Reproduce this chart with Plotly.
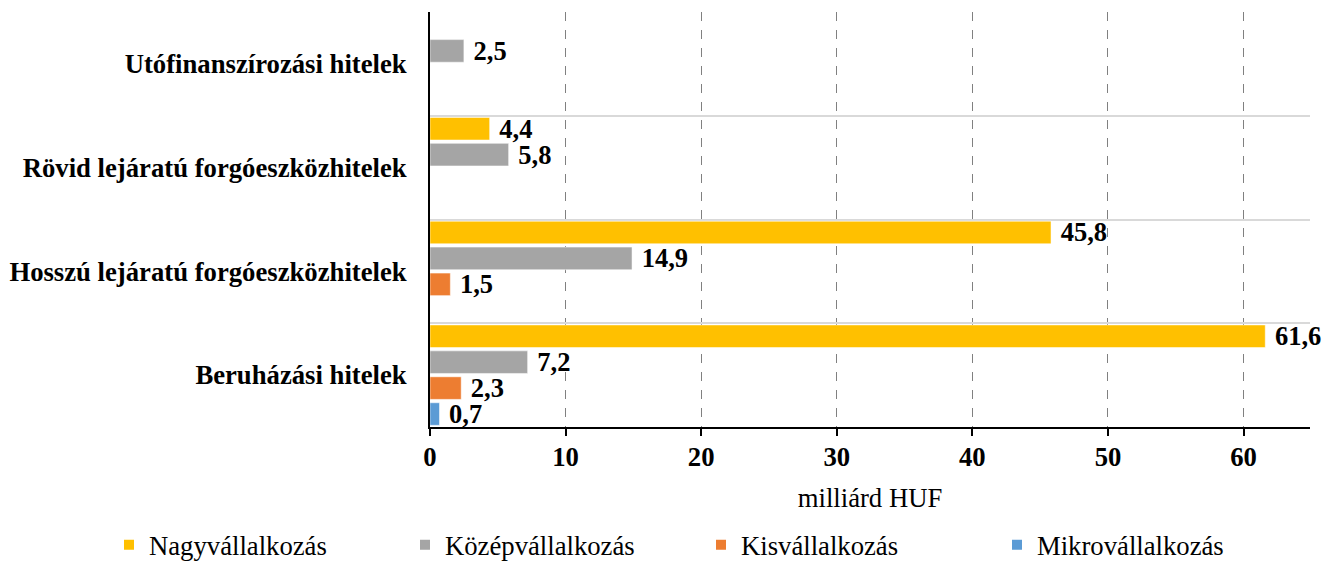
import plotly.graph_objects as go

categories = ["Beruházási hitelek", "Hosszú lejáratú forgóeszközhitelek",
              "Rövid lejáratú forgóeszközhitelek", "Utófinanszírozási hitelek"]
series_names = ["Nagyvállalkozás", "Középvállalkozás", "Kisvállalkozás", "Mikrovállalkozás"]
nagy = [61.6, 45.8, 4.4, None]
kozep = [7.2, 14.9, 5.8, 2.5]
kis = [2.3, 1.5, None, None]
mikro = [0.7, None, None, None]
colors = ["#FFC000", "#A5A5A5", "#ED7D31", "#5B9BD5"]
x_ticks = [0, 10, 20, 30, 40, 50, 60]

font_family = "Liberation Serif"
FS = 26.7

fig = go.Figure()
data = [nagy, kozep, kis, mikro]
# add in reverse so that Nagyvállalkozás is drawn at the top of each group
for name, vals, col in reversed(list(zip(series_names, data, colors))):
    fig.add_trace(go.Bar(
        y=categories, x=vals, name=name, orientation="h",
        marker=dict(color=col, line=dict(color="white", width=0.5)),
        texttemplate=" %{x:.1f}",
        textposition="outside",
        constraintext="none",
        textfont=dict(family=font_family, size=26.5, color="black", weight="bold"),
        cliponaxis=False,
        hoverinfo="skip",
    ))

# page body has an 8px default margin, so the figure is sized to fit the window
W, H = 1322, 553
fig.update_layout(
    width=W, height=H,
    barmode="group", bargap=0.0, bargroupgap=0.13,
    separators=", ",
    plot_bgcolor="white", paper_bgcolor="white",
    margin=dict(l=422, r=20, t=4, b=134, autoexpand=False),
    font=dict(family=font_family, size=FS, color="black"),
    showlegend=True,
    legend=dict(orientation="h", x=-0.3648, xref="paper", y=-0.284, yref="paper",
                yanchor="middle", xanchor="left",
                traceorder="reversed", entrywidth=251, entrywidthmode="pixels",
                font=dict(family=font_family, size=FS, color="black"),
                itemsizing="constant"),
)

fig.update_xaxes(
    range=[0, 64.9], tickvals=x_ticks, ticktext=[str(t) for t in x_ticks],
    showgrid=True, gridcolor="#808080", griddash="dash", gridwidth=1.3,
    showline=True, linecolor="black", linewidth=2,
    ticks="outside", ticklen=7, tickcolor="black", tickwidth=1.5,
    ticklabelstandoff=-2,
    tickfont=dict(family=font_family, size=FS, color="black", weight="bold"),
    title=dict(text="milliárd HUF", font=dict(family=font_family, size=FS, color="black"), standoff=17),
    zeroline=False, automargin=False,
)
fig.update_yaxes(
    categoryorder="array", categoryarray=categories,
    showgrid=True, tickson="boundaries", gridcolor="#D9D9D9", gridwidth=1.5,
    showline=True, linecolor="black", linewidth=2,
    ticks="", ticklabelstandoff=16, automargin=False,
    tickfont=dict(family=font_family, size=FS, color="black", weight="bold"),
)

fig.write_html("out.html")
